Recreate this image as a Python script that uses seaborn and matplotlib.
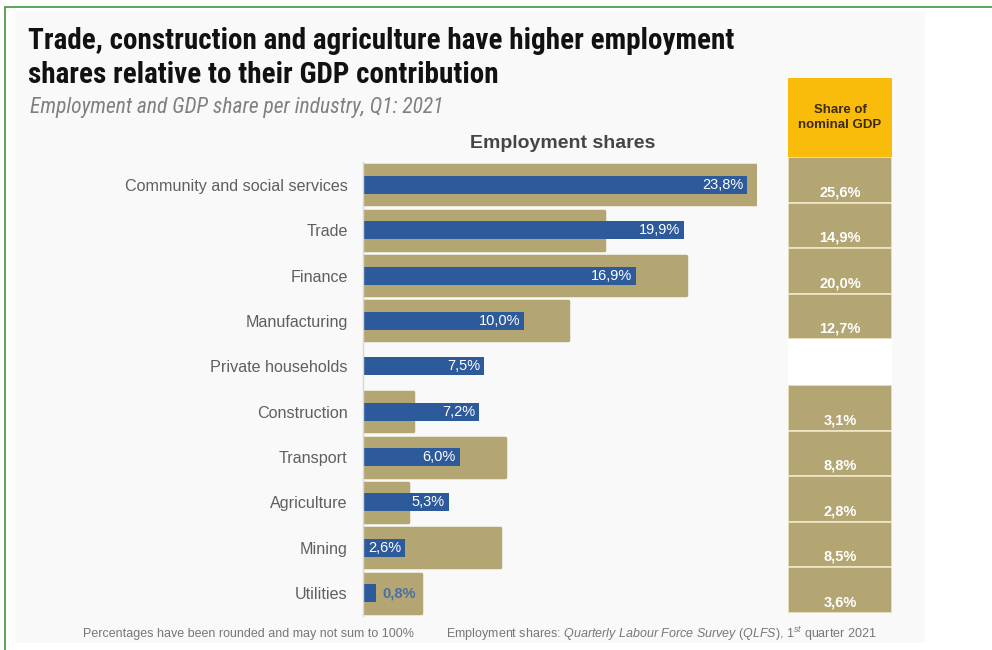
import numpy as np
import pandas as pd
import matplotlib
matplotlib.use("Agg")
import matplotlib.pyplot as plt
from matplotlib import font_manager as fm
from matplotlib.patches import Rectangle
from matplotlib.lines import Line2D
import seaborn as sns

# ---- data -------------------------------------------------------------
industries = [
    "Community and social services", "Trade", "Finance", "Manufacturing",
    "Private households", "Construction", "Transport", "Agriculture",
    "Mining", "Utilities",
]
employment_share = [23.8, 19.9, 16.9, 10.0, 7.5, 7.2, 6.0, 5.3, 2.6, 0.8]
gdp_share = [25.6, 14.9, 20.0, 12.7, np.nan, 3.1, 8.8, 2.8, 8.5, 3.6]

title = ("Trade, construction and agriculture have higher employment\n"
         "shares relative to their GDP contribution")
subtitle = "Employment and GDP share per industry, Q1: 2021"
panel_title = "Employment shares"
gdp_header = "Share of\nnominal GDP"
note_left = "Percentages have been rounded and may not sum to 100%"

df = pd.DataFrame({"industry": industries,
                   "employment": employment_share,
                   "gdp": gdp_share})

GOLD = "#b4a672"
BLUE = "#2d5a9a"
YELLOW = "#f9bc0a"
GREY_TXT = "#5f5f5f"


# pick a narrow face for the headline if one is installed
def narrow_face():
    fonts = fm.fontManager.ttflist
    for name in ["Liberation Sans Narrow", "Roboto Condensed",
                 "Open Sans Condensed", "Noto Sans Condensed",
                 "DejaVu Sans Condensed", "Arial Narrow"]:
        if any(f.name == name for f in fonts):
            return name, "normal"
    for f in fonts:
        if str(f.stretch) in ("condensed", "semi-condensed",
                              "extra-condensed") and "Mono" not in f.name:
            return f.name, f.stretch
    return "Liberation Sans", "normal"


NARROW_NAME, NARROW_STRETCH = narrow_face()
NARROW = [NARROW_NAME, "DejaVu Sans"]
SANS = ["Liberation Sans", "DejaVu Sans"]

sns.set_theme(style="white")
plt.rcParams["font.family"] = SANS
plt.rcParams["mathtext.fontset"] = "custom"
plt.rcParams["mathtext.rm"] = "Liberation Sans"
plt.rcParams["mathtext.it"] = "Liberation Sans:italic"

W, H = 992, 650
fig = plt.figure(figsize=(W / 100, H / 100), dpi=100, facecolor="white")


def fx(px):
    return px / W


def fy(py):
    return 1 - py / H


# light backdrop panel and green frame
fig.patches.append(Rectangle((fx(15), fy(643)), fx(910), (643 - 12) / H,
                             transform=fig.transFigure, facecolor="#f9f9f9",
                             edgecolor="none", zorder=-5))
fig.lines.append(Line2D([fx(5), fx(5)], [fy(7), 0], transform=fig.transFigure,
                        color="#4e9e4e", lw=1.3, zorder=-4))
fig.lines.append(Line2D([fx(5), 1], [fy(7), fy(7)], transform=fig.transFigure,
                        color="#4e9e4e", lw=1.3, zorder=-4))

# ---- main bar panel ---------------------------------------------------
top, bottom = 162.3, 615.7
ax = fig.add_axes([fx(363), fy(bottom), fx(757 - 363), (bottom - top) / H])
ax.set_facecolor("none")

sns.barplot(data=df, x="gdp", y="industry", order=industries, orient="h",
            color=GOLD, width=0.86, saturation=1, ax=ax,
            edgecolor=GOLD, linewidth=2.5)
for p in ax.patches:
    p.set_joinstyle("round")
sns.barplot(data=df, x="employment", y="industry", order=industries,
            orient="h", color=BLUE, width=0.40, saturation=1, ax=ax,
            linewidth=0)

ax.set_xlim(0, 24.4)
ax.set_ylim(len(industries) - 0.5, -0.5)
ax.set_xlabel("")
ax.set_ylabel("")
ax.set_xticks([])
ax.tick_params(axis="y", length=0, pad=11, labelsize=11.6, labelcolor=GREY_TXT)
for s in ["top", "right", "bottom"]:
    ax.spines[s].set_visible(False)
ax.spines["left"].set_color("#d6d6d6")
ax.spines["left"].set_linewidth(1)

for i, v in enumerate(employment_share):
    lab = f"{v:.1f}%".replace(".", ",")
    if v < 1.5:
        ax.text(v + 0.4, i, lab, ha="left", va="center", color="#4a6fa8",
                fontsize=10.5, fontweight="bold")
    else:
        ax.text(v - 0.25, i, lab, ha="right", va="center", color="white",
                fontsize=10.5)

fig.text(fx(563), fy(144), panel_title, ha="center", va="center",
         fontsize=14, fontweight="bold", color="#454545")

# ---- GDP share column -------------------------------------------------
c_top, c_bot, head_top = 157, 613, 78
row_px = (c_bot - c_top) / len(industries)
head_rows = (c_top - head_top) / row_px
rax = fig.add_axes([fx(788), fy(c_bot), fx(892 - 788), (c_bot - head_top) / H])
rax.set_xlim(0, 1)
rax.set_ylim(len(industries) - 0.5, -0.5 - head_rows)
rax.axis("off")

rows = np.arange(len(industries))
has_gdp = ~np.isnan(np.array(gdp_share))
rax.barh(rows[has_gdp], 1, height=1, left=0, color=GOLD,
         edgecolor="#efe7c9", linewidth=1.2)
rax.barh(rows[~has_gdp], 1, height=1, left=0, color="white", linewidth=0)
rax.add_patch(Rectangle((0, -0.5 - head_rows), 1, head_rows,
                        facecolor=YELLOW, edgecolor="none"))
rax.text(0.5, -0.5 - head_rows / 2, gdp_header, ha="center", va="center",
         fontsize=9.5, fontweight="bold", color="#3b2c05", linespacing=1.35)
for i, g in enumerate(gdp_share):
    if not np.isnan(g):
        rax.text(0.5, i + 0.27, f"{g:.1f}%".replace(".", ","), ha="center",
                 va="center", color="white", fontsize=10.5, fontweight="bold")

# ---- titles and notes -------------------------------------------------
fig.text(fx(28), fy(27), title, ha="left", va="top", fontsize=21,
         fontweight="bold", color="#111111", family=NARROW,
         fontstretch=NARROW_STRETCH, linespacing=1.28)
fig.text(fx(30), fy(107), subtitle, ha="left", va="center", fontsize=15.5,
         style="italic", color="#808080", family=NARROW,
         fontstretch=NARROW_STRETCH)
fig.text(fx(83), fy(634), note_left, ha="left", va="center", fontsize=9,
         color="#777777")
fig.text(fx(446), fy(634),
         r"Employment shares: $\mathit{Quarterly\ Labour\ Force\ Survey\ (QLFS)}$, 1$^{st}$ quarter 2021",
         ha="left", va="center", fontsize=9, color="#777777")

fig.savefig("out.png", dpi=100, facecolor="white")
